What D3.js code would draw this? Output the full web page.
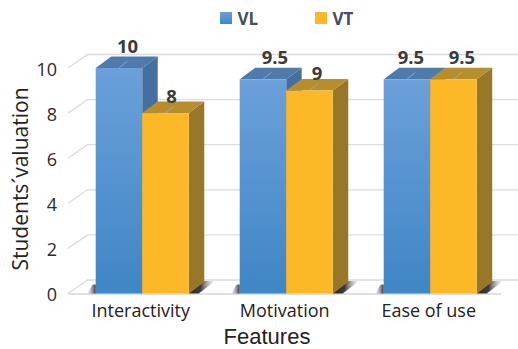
<!DOCTYPE html>
<html>
<head>
<meta charset="utf-8">
<script src="https://cdn.jsdelivr.net/npm/d3@7"></script>
<style>
  html, body { margin: 0; padding: 0; background: #fff; }
  svg { display: block; }
  text { font-family: "Open Sans", "Noto Sans", sans-serif; }
  text.compact { font-family: "Liberation Sans", sans-serif; }
</style>
</head>
<body>
<svg id="chart" width="518" height="349"></svg>
<script>
const categories = ["Interactivity", "Motivation", "Ease of use"];
const seriesNames = ["VL", "VT"];
const vlValues = [10, 9.5, 9.5];
const vtValues = [8, 9, 9.5];
const yTicks = [0, 2, 4, 6, 8, 10];

const width = 518, height = 349;
const svg = d3.select("#chart").attr("viewBox", [0, 0, width, height]);

// Front plane of the 3-D box, and the offset of its back wall
const y = d3.scaleLinear().domain([0, 10]).range([293.5, 68]);
const x = d3.scaleBand().domain(categories).range([68, 501])
  .paddingInner(0.354).paddingOuter(0.1806).align(0.533);
const series = d3.scaleBand().domain(seriesNames).range([0, x.bandwidth()]);
const barDepth = { dx: 15.5, dy: -11.5 };
const wallDepth = { dx: 19.5, dy: -13.5 };

const palette = {
  VL: { side: "#456f9f", top: "#4f7bac", labelColor: "#3b3b3b" },
  VT: { side: "#997729", top: "#b68e2c", labelColor: "#3b3b3b" }
};

const defs = svg.append("defs");
const blueGrad = defs.append("linearGradient")
  .attr("id", "blueFront").attr("x1", 0).attr("y1", 0).attr("x2", 0).attr("y2", 1);
blueGrad.append("stop").attr("offset", "0%").attr("stop-color", "#6ba0d9");
blueGrad.append("stop").attr("offset", "100%").attr("stop-color", "#3f86c5");

const shadowRight = defs.append("linearGradient")
  .attr("id", "shadowRight").attr("x1", 0).attr("y1", 0).attr("x2", 1).attr("y2", 0);
shadowRight.append("stop").attr("offset", "0%").attr("stop-color", "#2a2a2a").attr("stop-opacity", 1);
shadowRight.append("stop").attr("offset", "45%").attr("stop-color", "#333").attr("stop-opacity", 0.95);
shadowRight.append("stop").attr("offset", "100%").attr("stop-color", "#999").attr("stop-opacity", 0);

const shadowLeft = defs.append("linearGradient")
  .attr("id", "shadowLeft").attr("x1", 1).attr("y1", 0).attr("x2", 0).attr("y2", 0);
shadowLeft.append("stop").attr("offset", "0%").attr("stop-color", "#333").attr("stop-opacity", 1);
shadowLeft.append("stop").attr("offset", "100%").attr("stop-color", "#999").attr("stop-opacity", 0);

const poly = pts => pts.map(p => p.join(",")).join(" ");

// Gridlines: diagonal on the side wall, then across the back wall
const grid = svg.append("g").attr("fill", "none");
grid.selectAll("polyline").data(yTicks).join("polyline")
  .attr("points", d => {
    const fy = y(d);
    const by = fy + wallDepth.dy;
    const pts = [[x.range()[0], fy], [x.range()[0] + wallDepth.dx, by], [width, by]];
    return poly(pts);
  })
  .attr("stroke", "#dcdcdc")
  .attr("stroke-width", 1.3);
grid.append("line")
  .attr("x1", x.range()[0]).attr("x2", x.range()[1])
  .attr("y1", y(0) + 0.5).attr("y2", y(0) + 0.5)
  .attr("stroke", "#d6d6d6").attr("stroke-width", 1.3);

// Floor shadows cast by each pair of bars
const groups = svg.append("g").selectAll("g").data(categories).join("g");
const shadows = groups.append("g");
shadows.append("polygon")
  .attr("points", c => {
    const x1 = x(c) + series("VT") + series.bandwidth();
    const y0 = y(0);
    return poly([[x1, y0], [x1 + barDepth.dx, y0 - 12.5], [x1 + barDepth.dx + 11, y0 - 12.5], [x1 + 10, y0]]);
  })
  .attr("fill", "url(#shadowRight)");
shadows.append("polygon")
  .attr("points", c => {
    const x0 = x(c);
    const y0 = y(0);
    return poly([[x0, y0], [x0, y0 - 9], [x0 - 3, y0 - 9], [x0 - 9, y0]]);
  })
  .attr("fill", "url(#shadowLeft)");

// Horizontal label shift per series and group, sitting over the receding top face
const labelShift = { VL: [8.5, 12, 4], VT: [6, 7.5, 8.5] };

// Draw the bars series by series: tops and sides first, front faces after
const rows = categories.map((c, i) => ({ c, i, VL: vlValues[i], VT: vtValues[i] }));
seriesNames.forEach(name => {
  const g = svg.append("g");
  const colors = palette[name];
  const left = d => x(d.c) + series(name);
  const right = d => left(d) + series.bandwidth();

  g.selectAll("polygon.side").data(rows).join("polygon").attr("class", "side")
    .attr("fill", colors.side)
    .attr("points", d => poly([
      [right(d), y(d[name])],
      [right(d) + barDepth.dx, y(d[name]) + barDepth.dy],
      [right(d) + barDepth.dx, y(0) + barDepth.dy],
      [right(d), y(0)]
    ]));
  g.selectAll("polygon.top").data(rows).join("polygon").attr("class", "top")
    .attr("fill", colors.top)
    .attr("points", d => poly([
      [left(d), y(d[name])],
      [left(d) + barDepth.dx, y(d[name]) + barDepth.dy],
      [right(d) + barDepth.dx, y(d[name]) + barDepth.dy],
      [right(d), y(d[name])]
    ]));
  // Faint tick on the top face where the value is marked
  g.selectAll("line.mark").data(rows).join("line").attr("class", "mark")
    .attr("x1", d => (left(d) + right(d)) / 2)
    .attr("y1", d => y(d[name]))
    .attr("x2", d => (left(d) + right(d)) / 2 + 8.5)
    .attr("y2", d => y(d[name]) - 7)
    .attr("stroke", "#a9b4bf").attr("stroke-opacity", 0.7).attr("stroke-width", 1);
  g.selectAll("rect").data(rows).join("rect")
    .attr("x", left)
    .attr("y", d => y(d[name]))
    .attr("width", series.bandwidth())
    .attr("height", d => y(0) - y(d[name]))
    .attr("fill", name === "VL" ? "url(#blueFront)" : "#fdb827");
  // A shorter bar's label sits lower, closer to its own top face
  g.selectAll("text").data(rows).join("text")
    .attr("x", d => (left(d) + right(d)) / 2 + labelShift[name][d.i])
    .attr("y", d => y(d[name]) - (d[name] < d.VL ? 10.5 : 15))
    .attr("text-anchor", "middle")
    .attr("font-size", 18.5)
    .attr("font-weight", 700)
    .attr("fill", colors.labelColor)
    .text(d => d[name]);
});

// Value axis
const yAxis = d3.axisLeft(y).tickValues(yTicks).tickSize(0).tickPadding(0).tickFormat(d3.format("d"));
svg.append("g")
  .attr("transform", "translate(57,1.5)")
  .call(yAxis)
  .call(g => g.select(".domain").remove())
  .call(g => g.selectAll("text").attr("font-size", 18).attr("fill", "#2b2b2b"));

// Category axis
const xAxis = d3.axisBottom(x).tickSize(0).tickPadding(0);
svg.append("g")
  .attr("transform", "translate(-1.5,304)")
  .call(xAxis)
  .call(g => g.select(".domain").remove())
  .call(g => g.selectAll("text").attr("font-size", 18).attr("fill", "#222"));

// Axis titles
svg.append("text")
  .attr("transform", "translate(28,179) rotate(-90)")
  .attr("text-anchor", "middle").attr("font-size", 21).attr("fill", "#222")
  .text("Students´valuation");
svg.append("text")
  .attr("class", "compact")
  .attr("x", 267).attr("y", 344)
  .attr("text-anchor", "middle").attr("font-size", 22).attr("fill", "#222")
  .text("Features");

// Legend
const legend = svg.append("g").selectAll("g").data(seriesNames).join("g")
  .attr("transform", (d, i) => `translate(${220 + i * 95},12)`);
legend.append("rect").attr("width", 12).attr("height", 12)
  .attr("fill", d => d === "VL" ? "url(#blueFront)" : "#fdb827");
legend.append("text")
  .attr("x", 17.5).attr("y", 12.5)
  .attr("font-size", 17).attr("font-weight", 700).attr("fill", "#44505c")
  .text(d => d);
</script>
</body>
</html>
